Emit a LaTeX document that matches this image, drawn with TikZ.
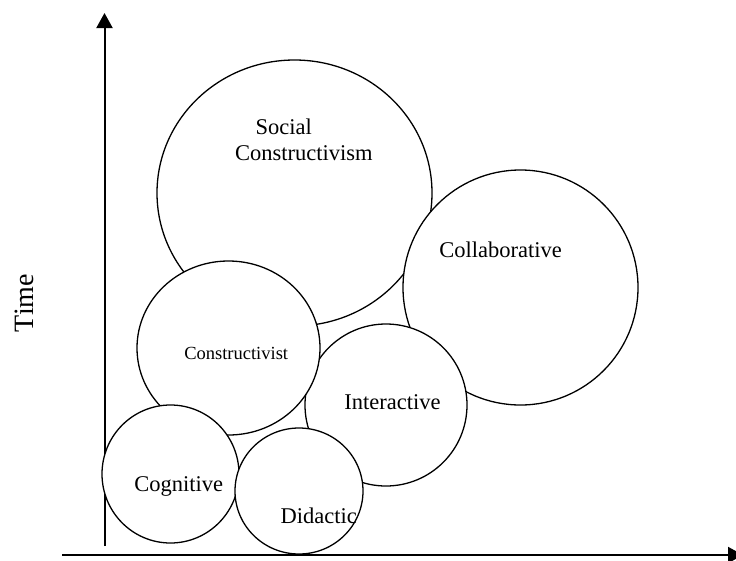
\documentclass[tikz,border=0pt]{standalone}
\usepackage{fontspec}
\setmainfont{Liberation Serif}
\usetikzlibrary{shapes.geometric,arrows.meta}
\begin{document}
\begin{tikzpicture}[x=1pt,y=-1pt,
  bubble/.style={ellipse,draw=black,fill=white,line width=1.3pt,inner sep=0pt,outer sep=0pt},
  lbl/.style={anchor=base west,inner sep=0pt,outer sep=0pt,font=\fontsize{22.5}{26}\selectfont},
  smalllbl/.style={lbl,font=\fontsize{18.5}{22}\selectfont},
  axis/.style={line width=2pt,-{Triangle[length=15pt,width=16pt]}}]
\useasboundingbox (0,0) rectangle (736,560);
% axes
\coordinate (yfoot) at (104.5,546);
\coordinate (ytip) at (104.5,13);
\coordinate (xfoot) at (62,555);
\coordinate (xtip) at (743,555);
\draw[axis] (yfoot) -- (ytip);
\draw[axis] (xfoot) -- (xtip);
\node[lbl,rotate=90,font=\fontsize{28}{32}\selectfont] (time) at (33,332) {Time};
% bubbles, back to front
\node[bubble,minimum width=275pt,minimum height=266pt] (sc) at (294.5,193) {};
\node[bubble,minimum width=235pt,minimum height=235pt] (col) at (520.5,287.5) {};
\node[bubble,minimum width=162pt,minimum height=162pt] (int) at (386,405) {};
\node[bubble,minimum width=183pt,minimum height=174pt] (con) at (228.5,348) {};
\node[bubble,minimum width=137pt,minimum height=138pt] (cog) at (170.5,474) {};
\node[bubble,minimum width=128pt,minimum height=126pt] (did) at (299,491) {};
% labels
\node[lbl] (sclabA) at (255.7,134.3) {Social};
\node[lbl] (sclabB) at (235,160) {Constructivism};
\node[lbl] (collab) at (439.3,257.7) {Collaborative};
\node[smalllbl] (conlab) at (184.3,359) {Constructivist};
\node[lbl] (intlab) at (344.3,409) {Interactive};
\node[lbl] (coglab) at (134.3,491.7) {Cognitive};
\node[lbl] (didlab) at (280.7,523.3) {Didactic};
\end{tikzpicture}
\end{document}
